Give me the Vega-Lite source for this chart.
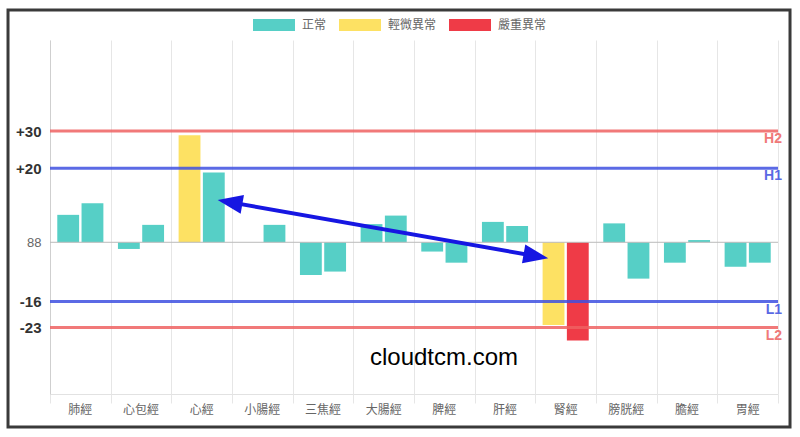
{
  "$schema": "https://vega.github.io/schema/vega-lite/v6.json",
  "width": 728,
  "height": 354,
  "autosize": {"type": "none"},
  "padding": {"left": 50, "top": 40, "right": 22, "bottom": 43},
  "background": "white",
  "config": {
    "view": {"stroke": null},
    "font": "Liberation Sans"
  },
  "layer": [
    {
      "data": {
        "values": [
          {"meridian": "肺經", "side": "L", "v": 7.4, "status": "正常"},
          {"meridian": "肺經", "side": "R", "v": 10.5, "status": "正常"},
          {"meridian": "心包經", "side": "L", "v": -1.8, "status": "正常"},
          {"meridian": "心包經", "side": "R", "v": 4.7, "status": "正常"},
          {"meridian": "心經", "side": "L", "v": 28.9, "status": "輕微異常"},
          {"meridian": "心經", "side": "R", "v": 18.8, "status": "正常"},
          {"meridian": "小腸經", "side": "L", "v": 0, "status": "正常"},
          {"meridian": "小腸經", "side": "R", "v": 4.7, "status": "正常"},
          {"meridian": "三焦經", "side": "L", "v": -8.8, "status": "正常"},
          {"meridian": "三焦經", "side": "R", "v": -7.9, "status": "正常"},
          {"meridian": "大腸經", "side": "L", "v": 4.9, "status": "正常"},
          {"meridian": "大腸經", "side": "R", "v": 7.2, "status": "正常"},
          {"meridian": "脾經", "side": "L", "v": -2.5, "status": "正常"},
          {"meridian": "脾經", "side": "R", "v": -5.5, "status": "正常"},
          {"meridian": "肝經", "side": "L", "v": 5.5, "status": "正常"},
          {"meridian": "肝經", "side": "R", "v": 4.4, "status": "正常"},
          {"meridian": "腎經", "side": "L", "v": -22.3, "status": "輕微異常"},
          {"meridian": "腎經", "side": "R", "v": -26.5, "status": "嚴重異常"},
          {"meridian": "膀胱經", "side": "L", "v": 5.1, "status": "正常"},
          {"meridian": "膀胱經", "side": "R", "v": -9.8, "status": "正常"},
          {"meridian": "膽經", "side": "L", "v": -5.5, "status": "正常"},
          {"meridian": "膽經", "side": "R", "v": 0.6, "status": "正常"},
          {"meridian": "胃經", "side": "L", "v": -6.6, "status": "正常"},
          {"meridian": "胃經", "side": "R", "v": -5.5, "status": "正常"}
        ]
      },
      "mark": {"type": "bar"},
      "encoding": {
        "x": {
          "field": "meridian",
          "type": "nominal",
          "sort": null,
          "scale": {"paddingInner": 0, "paddingOuter": 0},
          "axis": {
            "title": null,
            "labelAngle": 0,
            "labelFont": "Noto Sans CJK TC",
            "labelFontSize": 12,
            "labelColor": "#666",
            "labelPadding": 10,
            "ticks": false,
            "grid": false,
            "domain": true,
            "domainColor": "#e2e2e2"
          }
        },
        "xOffset": {
          "field": "side",
          "type": "nominal",
          "scale": {"paddingInner": 0.1, "paddingOuter": 0.3}
        },
        "y": {
          "field": "v",
          "type": "quantitative",
          "scale": {"domain": [-40.92, 54.56], "nice": false, "zero": false},
          "axis": {
            "title": null,
            "values": [30, 20, 0, -16, -23],
            "labelExpr": "datum.value === 0 ? '88' : (datum.value > 0 ? '+' + datum.value : '' + datum.value)",
            "labelFontSize": {"condition": {"test": "datum.value === 0", "value": 13}, "value": 15},
            "labelFontWeight": {"condition": {"test": "datum.value === 0", "value": "normal"}, "value": "bold"},
            "labelColor": {"condition": {"test": "datum.value === 0", "value": "#666"}, "value": "#333"},
            "labelPadding": 9,
            "ticks": false,
            "grid": false,
            "domain": true,
            "domainColor": "#cfcfcf"
          }
        },
        "y2": {"datum": 0},
        "color": {
          "field": "status",
          "type": "nominal",
          "scale": {
            "domain": ["正常", "輕微異常", "嚴重異常"],
            "range": ["#56CFC6", "#FDE163", "#EF3B47"]
          },
          "legend": {
            "title": null,
            "orient": "none",
            "direction": "horizontal",
            "legendX": 203,
            "legendY": -25,
            "padding": 0,
            "symbolType": "M-1,-0.6 H3.2 V0.6 H-1 Z",
            "symbolSize": 400,
            "symbolOpacity": 1,
            "symbolStrokeWidth": 0,
            "labelOffset": 29,
            "columnPadding": 12,
            "labelFont": "Noto Sans CJK TC",
            "labelFontSize": 12,
            "labelColor": "#666"
          }
        }
      }
    },
    {
      "layer": [
        {
          "data": {"values": [{"base": 0}]},
          "mark": {"type": "rule", "color": "#bbbbbb", "strokeWidth": 1},
          "encoding": {
            "x": {
              "datum": 0,
              "type": "quantitative",
              "scale": {"domain": [0, 12], "nice": false, "zero": false},
              "axis": {
                "orient": "bottom",
                "values": [0, 1, 2, 3, 4, 5, 6, 7, 8, 9, 10, 11, 12],
                "title": null,
                "labels": false,
                "grid": true,
                "gridColor": "#e6e6e6",
                "ticks": true,
                "tickSize": 9,
                "tickColor": "#e6e6e6",
                "domain": false
              }
            },
            "x2": {"datum": 12},
            "y": {"field": "base", "type": "quantitative", "scale": {"domain": [-40.92, 54.56], "nice": false, "zero": false}}
          }
        },
        {
          "data": {
            "values": [
              {"label": "H2", "v": 30, "kind": "H2"},
              {"label": "H1", "v": 20, "kind": "H1"},
              {"label": "L1", "v": -16, "kind": "L1"},
              {"label": "L2", "v": -23, "kind": "L2"}
            ]
          },
          "layer": [
            {
              "mark": {"type": "rule", "strokeWidth": 3},
              "encoding": {
                "y": {"field": "v", "type": "quantitative", "scale": {"domain": [-40.92, 54.56], "nice": false, "zero": false}},
                "color": {
                  "field": "kind",
                  "type": "nominal",
                  "scale": {"domain": ["H2", "H1", "L1", "L2"], "range": ["#EE6262", "#3E50E0", "#3E50E0", "#EE6262"]},
                  "legend": null
                },
                "opacity": {"value": 0.85}
              }
            },
            {
              "mark": {"type": "text", "align": "right", "baseline": "alphabetic", "dx": 4, "dy": 12, "fontSize": 14, "fontWeight": "bold", "font": "Liberation Sans"},
              "encoding": {
                "x": {"datum": 12, "type": "quantitative", "scale": {"domain": [0, 12], "nice": false, "zero": false}},
                "y": {"field": "v", "type": "quantitative", "scale": {"domain": [-40.92, 54.56], "nice": false, "zero": false}},
                "text": {"field": "label"},
                "color": {"field": "kind", "type": "nominal", "legend": null},
                "opacity": {"value": 0.85}
              }
            }
          ]
        },
        {
          "data": {"values": [{"x": 2.959, "y": 10.84, "x2": 8.019, "y2": -3.75}]},
          "mark": {"type": "rule", "color": "#1616E2", "strokeWidth": 4, "strokeCap": "butt"},
          "encoding": {
            "x": {"field": "x", "type": "quantitative", "scale": {"domain": [0, 12], "nice": false, "zero": false}},
            "x2": {"field": "x2"},
            "y": {"field": "y", "type": "quantitative", "scale": {"domain": [-40.92, 54.56], "nice": false, "zero": false}},
            "y2": {"field": "y2"}
          }
        },
        {
          "data": {"values": [{"x": 2.764, "y": 11.41}]},
          "mark": {"type": "point", "shape": "M0,0 L0.95,2.5 L-0.95,2.5 Z", "size": 400, "filled": true, "opacity": 1, "color": "#1616E2", "angle": 280},
          "encoding": {
            "x": {"field": "x", "type": "quantitative", "scale": {"domain": [0, 12], "nice": false, "zero": false}},
            "y": {"field": "y", "type": "quantitative", "scale": {"domain": [-40.92, 54.56], "nice": false, "zero": false}}
          }
        },
        {
          "data": {"values": [{"x": 8.213, "y": -4.32}]},
          "mark": {"type": "point", "shape": "M0,0 L0.95,2.5 L-0.95,2.5 Z", "size": 400, "filled": true, "opacity": 1, "color": "#1616E2", "angle": 100},
          "encoding": {
            "x": {"field": "x", "type": "quantitative", "scale": {"domain": [0, 12], "nice": false, "zero": false}},
            "y": {"field": "y", "type": "quantitative", "scale": {"domain": [-40.92, 54.56], "nice": false, "zero": false}}
          }
        },
        {
          "data": {"values": [{"text": "cloudtcm.com", "x": 6.494, "y": -33.1}]},
          "mark": {"type": "text", "align": "center", "baseline": "alphabetic", "fontSize": 24, "font": "Liberation Sans", "color": "#000"},
          "encoding": {
            "x": {"field": "x", "type": "quantitative", "scale": {"domain": [0, 12], "nice": false, "zero": false}},
            "y": {"field": "y", "type": "quantitative", "scale": {"domain": [-40.92, 54.56], "nice": false, "zero": false}},
            "text": {"field": "text"}
          }
        },
        {
          "data": {"values": [{"x": -0.692, "x2": 12.198, "y": 62.65, "y2": -49.82}]},
          "mark": {"type": "rect", "filled": false, "stroke": "#3a3a3a", "strokeWidth": 3},
          "encoding": {
            "x": {"field": "x", "type": "quantitative", "scale": {"domain": [0, 12], "nice": false, "zero": false}},
            "x2": {"field": "x2"},
            "y": {"field": "y", "type": "quantitative", "scale": {"domain": [-40.92, 54.56], "nice": false, "zero": false}},
            "y2": {"field": "y2"}
          }
        }
      ]
    }
  ],
  "resolve": {"scale": {"x": "independent", "color": "independent"}, "axis": {"x": "independent"}}
}
